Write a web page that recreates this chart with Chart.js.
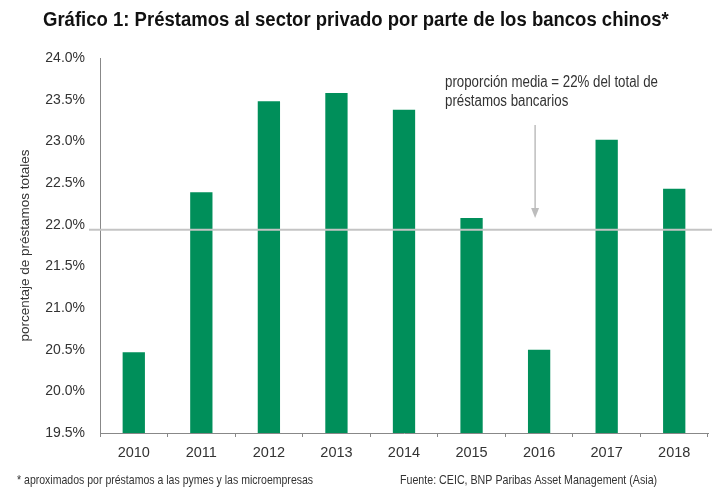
<!DOCTYPE html>
<html>
<head>
<meta charset="utf-8">
<script src="https://cdn.jsdelivr.net/npm/chart.js@4"></script>
<style>
  html, body { margin: 0; padding: 0; background: #fff; }
  #wrap { width: 725px; height: 502px; }
</style>
</head>
<body>
<div id="wrap"><canvas id="loansChart"></canvas></div>
<script>
// Data
const years = ['2010', '2011', '2012', '2013', '2014', '2015', '2016', '2017', '2018'];
const privateShare = [20.47, 22.39, 23.48, 23.58, 23.38, 22.08, 20.50, 23.02, 22.43];
const averageShare = [21.94];
const yTicks = [19.5, 20.0, 20.5, 21.0, 21.5, 22.0, 22.5, 23.0, 23.5, 24.0];

const titleText = 'Gráfico 1: Préstamos al sector privado por parte de los bancos chinos*';
const noteLines = ['proporción media = 22% del total de', 'préstamos bancarios'];
const footLeft = '* aproximados por préstamos a las pymes y las microempresas';
const footRight = 'Fuente: CEIC, BNP Paribas Asset Management (Asia)';

const fontFamily = "'Liberation Sans', Arial, sans-serif";
Chart.defaults.font.family = fontFamily;
Chart.defaults.color = '#333';

// text squeezed sideways, the original uses a narrow face
function narrowText(ctx, text, x, y, font, squeeze) {
  ctx.save();
  ctx.font = font;
  ctx.textAlign = 'left';
  ctx.textBaseline = 'middle';
  ctx.translate(x, y);
  ctx.scale(squeeze, 1);
  ctx.fillText(text, 0, 0);
  ctx.restore();
}

// Extra drawing: title, mean line, arrow, note and footnotes
const decorations = {
  id: 'decorations',
  afterDatasetsDraw(chart) {
    const ctx = chart.ctx;
    const y = chart.scales.y;
    const area = chart.chartArea;

    // mean line
    const yMean = y.getPixelForValue(averageShare[0]);
    ctx.save();
    ctx.strokeStyle = '#c4c4c4';
    ctx.lineWidth = 2;
    ctx.beginPath();
    ctx.moveTo(area.left - 11, yMean);
    ctx.lineTo(area.right + 4, yMean);
    ctx.stroke();

    // arrow pointing at the mean line
    const ax = chart.scales.x.getPixelForValue(6) - 4;
    ctx.strokeStyle = '#bdbdbd';
    ctx.fillStyle = '#bdbdbd';
    ctx.lineWidth = 1.5;
    ctx.beginPath();
    ctx.moveTo(ax, 125);
    ctx.lineTo(ax, 210);
    ctx.stroke();
    ctx.beginPath();
    ctx.moveTo(ax - 4, 208);
    ctx.lineTo(ax + 4, 208);
    ctx.lineTo(ax, 218);
    ctx.closePath();
    ctx.fill();

    // note text
    ctx.fillStyle = '#333';
    narrowText(ctx, noteLines[0], 445, 83, '16px ' + fontFamily, 0.83);
    narrowText(ctx, noteLines[1], 445, 102, '16px ' + fontFamily, 0.83);
    ctx.restore();
  },
  afterDraw(chart) {
    const ctx = chart.ctx;
    ctx.save();
    ctx.fillStyle = '#111';
    narrowText(ctx, titleText, 43, 20, 'bold 20px ' + fontFamily, 0.926);
    ctx.fillStyle = '#333';
    narrowText(ctx, footLeft, 17, 480, '13px ' + fontFamily, 0.81);
    narrowText(ctx, footRight, 400, 480, '13px ' + fontFamily, 0.82);
    ctx.restore();
  }
};

new Chart(document.getElementById('loansChart'), {
  type: 'bar',
  data: {
    labels: years,
    datasets: [{
      label: 'Préstamos al sector privado',
      data: privateShare,
      backgroundColor: '#008f5a',
      borderWidth: 0,
      categoryPercentage: 1,
      barPercentage: 0.33
    }]
  },
  options: {
    responsive: true,
    maintainAspectRatio: false,
    animation: false,
    layout: {
      padding: { top: 58, right: 17, bottom: 0, left: 0 }
    },
    plugins: {
      legend: { display: false },
      tooltip: { enabled: false }
    },
    scales: {
      x: {
        afterFit: function(scale) { scale.height = 69; },
        grid: {
          display: true,
          offset: true,
          drawOnChartArea: false,
          tickLength: 4,
          color: '#888'
        },
        border: { color: '#888', width: 1 },
        ticks: {
          padding: 7,
          color: '#333',
          font: { size: 14.5 }
        }
      },
      y: {
        min: 19.5,
        max: 24,
        afterFit: function(scale) { scale.width = 100; },
        afterBuildTicks: function(scale) {
          scale.ticks = yTicks.map(v => ({ value: v }));
        },
        grid: { display: false, drawTicks: false },
        border: { color: '#888', width: 1 },
        title: {
          display: true,
          text: 'porcentaje de préstamos totales',
          color: '#333',
          font: { size: 13.5 },
          padding: { top: 17, bottom: 0 }
        },
        ticks: {
          padding: 15,
          color: '#333',
          font: { size: 14 },
          callback: function(value) { return value.toFixed(1) + '%'; }
        }
      }
    }
  },
  plugins: [decorations]
});
</script>
</body>
</html>
